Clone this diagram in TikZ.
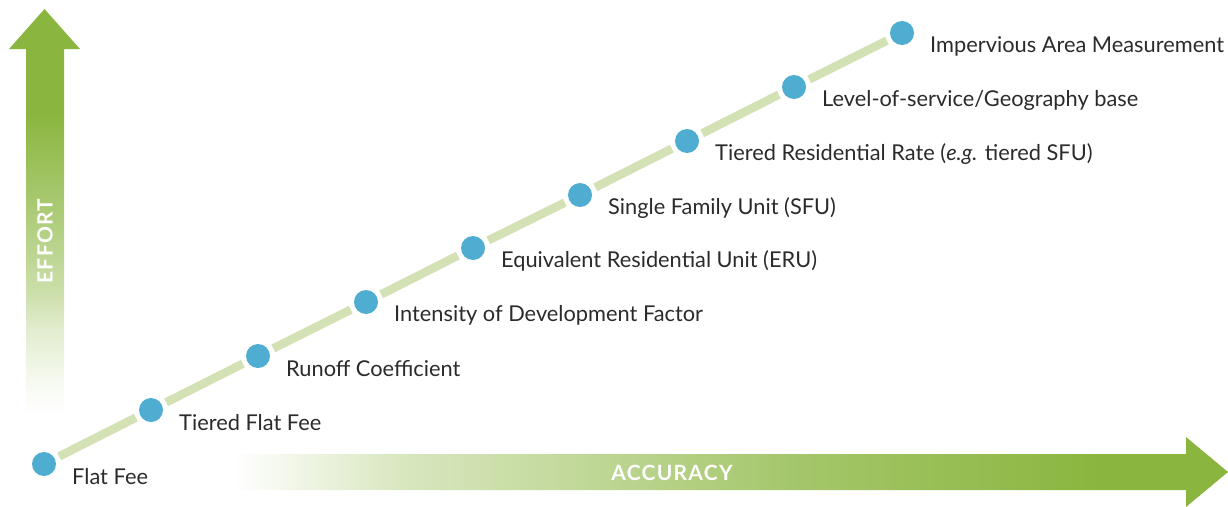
\documentclass[tikz,border=0pt]{standalone}
\usetikzlibrary{calc}
\usepackage{fontspec}
\setmainfont{Lato}
\definecolor{agreen}{HTML}{8AB63F}
\definecolor{trail}{HTML}{D3E1B5}
\definecolor{dotblue}{HTML}{4FADD2}
\definecolor{labelgray}{HTML}{2B2B2B}
\pgfdeclareverticalshading{effortshade}{100bp}{color(0bp)=(white); color(25bp)=(white); color(29.3bp)=(agreen!8); color(35.5bp)=(agreen!25); color(40.4bp)=(agreen!45); color(51.5bp)=(agreen!75); color(62bp)=(agreen); color(100bp)=(agreen)}
\pgfdeclarehorizontalshading{accshade}{100bp}{color(0bp)=(white); color(25bp)=(white); color(33.4bp)=(agreen!33); color(40.9bp)=(agreen!50); color(53.5bp)=(agreen!78); color(68.6bp)=(agreen); color(100bp)=(agreen)}
\newcommand{\spaced}[1]{\addfontfeatures{LetterSpace=6}#1}
\begin{document}
\begin{tikzpicture}[x=1pt,y=-1pt,
  dotnode/.style={circle,fill=dotblue,minimum size=24pt,inner sep=0pt},
  lbl/.style={anchor=west,text=labelgray,font=\fontsize{21.8}{25}\selectfont,inner sep=0pt},
  trailseg/.style={draw=trail,line width=8.5pt,shorten <=17pt,shorten >=17pt},
  axislbl/.style={text=white,font=\bfseries\fontsize{21}{24}\selectfont,inner sep=0pt}]
\useasboundingbox (0,0) rectangle (1228,506);
% effort arrow
\shade[shading=effortshade] (26,415) -- (26,49) -- (9,49) -- (44.5,9) -- (80,49) -- (64,49) -- (64,415) -- cycle;
\node[axislbl,rotate=90] (effort) at (45,241) {\spaced{EFFORT}};
% accuracy arrow
\shade[shading=accshade] (233,454) -- (1186,454) -- (1186,437) -- (1228,472) -- (1186,507) -- (1186,490) -- (233,490) -- cycle;
\node[axislbl] (accuracy) at (672,472.5) {\spaced{ACCURACY}};
% dots
\foreach \i/\x/\y in {1/44/464,2/151/410,3/258/356,4/366/302,5/473/248,6/580/195,7/687/141,8/794/87,9/902/33}
  \coordinate (p\i) at (\x,\y);
\foreach \a/\b in {1/2,2/3,3/4,4/5,5/6,6/7,7/8,8/9}
  \draw[trailseg] (p\a) -- (p\b);
\foreach \i in {1,...,9}
  \node[dotnode] (d\i) at (p\i) {};
\foreach \i/\t in {1/{Flat Fee},2/{Tiered Flat Fee},3/{Runoff Coefficient},4/{Intensity of Development Factor},5/{Equivalent Residential Unit (ERU)},6/{Single Family Unit (SFU)},7/{Tiered Residential Rate (\textit{e.g.} tiered SFU)},8/{Level-of-service/Geography base},9/{Impervious Area Measurement}}
  \node[lbl] (l\i) at ($(d\i.center)+(28,13)$) {\t};
\end{tikzpicture}
\end{document}
